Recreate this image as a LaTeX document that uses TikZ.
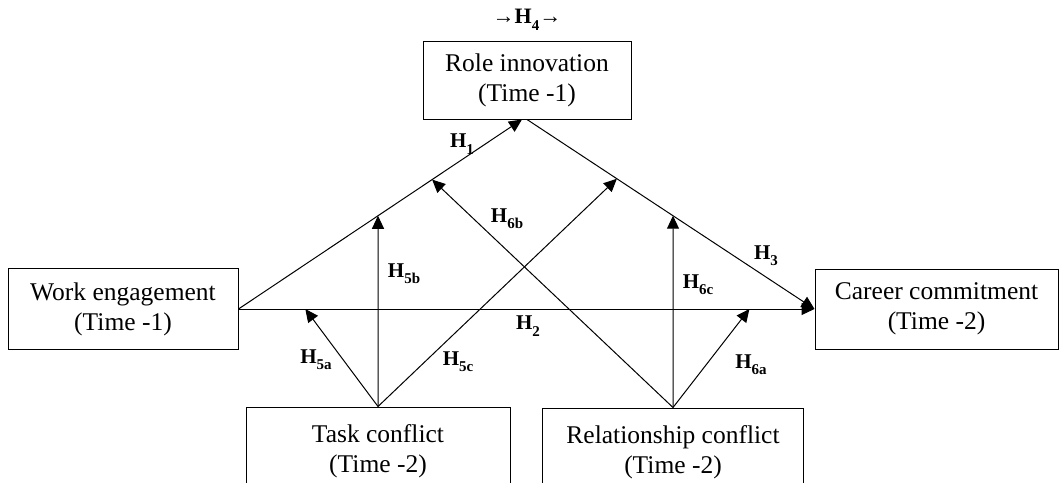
\documentclass[tikz,border=0pt]{standalone}
\usepackage{fontspec}
\setmainfont{Liberation Serif}
\usetikzlibrary{arrows.meta,calc,intersections}
\newcommand{\hyp}[1]{\textbf{H}\raisebox{-0.3em}{\fontsize{15}{15}\selectfont\textbf{#1}}}
\tikzset{
  box/.style={draw, line width=1pt, align=center, font=\fontsize{25.5}{30}\selectfont, inner sep=0pt},
  conn/.style={line width=1pt},
  arr/.style={line width=1pt, -{Triangle[length=13pt,width=12pt]}},
  lab/.style={font=\fontsize{21}{21}\selectfont, inner sep=0pt}
}
\begin{document}
\begin{tikzpicture}[x=1pt,y=-1pt]
\useasboundingbox (0,0) rectangle (1059,482);
\clip (0,0) rectangle (1059,482);
\node[box, minimum width=208, minimum height=78] (role) at (527,80) {Role innovation\\(Time -1)};
\node[box, minimum width=230, minimum height=81] (we) at (123,309) {Work engagement\\(Time -1)};
\node[box, minimum width=243, minimum height=80] (cc) at (936.5,309) {Career commitment\\(Time -2)};
\node[box, minimum width=264, minimum height=88] (task) at (378,451) {Task conflict\\(Time -2)};
\node[box, minimum width=261, minimum height=88] (rel) at (673,452) {Relationship conflict\\(Time -2)};
% main paths
\coordinate (h1e) at ([xshift=-5]role.south);
\draw[arr, name path=h1] (we.east) -- (h1e);
\draw[arr, name path=h3] (role.south) -- (cc.west);
\draw[arr, name path=h2] (we.east) -- (cc.west);
% auxiliary
\path[name path=v5b] (task.north) -- ++(0,-300);
\path[name path=v6c] (rel.north) -- ++(0,-300);
\path[name intersections={of=h1 and v5b, by=p5b}];
\path[name intersections={of=h3 and v6c, by=p6c}];
\coordinate (p5a) at ($(we.east)!0.116!(cc.west)$);
\coordinate (p6a) at ($(we.east)!0.887!(cc.west)$);
\coordinate (p6b) at ($(we.east)!0.683!(h1e)$);
\coordinate (p5c) at ($(role.south)!0.3125!(cc.west)$);
\draw[arr] (task.north) -- (p5a);
\draw[arr] (task.north) -- (p5b);
\draw[arr] (task.north) -- (p5c);
\draw[arr] (rel.north) -- (p6a);
\draw[arr] (rel.north) -- (p6b);
\draw[arr] (rel.north) -- (p6c);
% labels
\node[lab] (l4) at (527,20) {\fontsize{22}{22}\selectfont →\hyp{4}→};
\node[lab] (l1) at (462,144) {\hyp{1}};
\node[lab] (l6b) at (507,219) {\hyp{6b}};
\node[lab] (l5b) at (404,274) {\hyp{5b}};
\node[lab] (l3) at (766,256) {\hyp{3}};
\node[lab] (l6c) at (698,285) {\hyp{6c}};
\node[lab] (l2) at (528,326) {\hyp{2}};
\node[lab] (l5a) at (316,360) {\hyp{5a}};
\node[lab] (l5c) at (458,362) {\hyp{5c}};
\node[lab] (l6a) at (751,365) {\hyp{6a}};
\end{tikzpicture}
\end{document}
